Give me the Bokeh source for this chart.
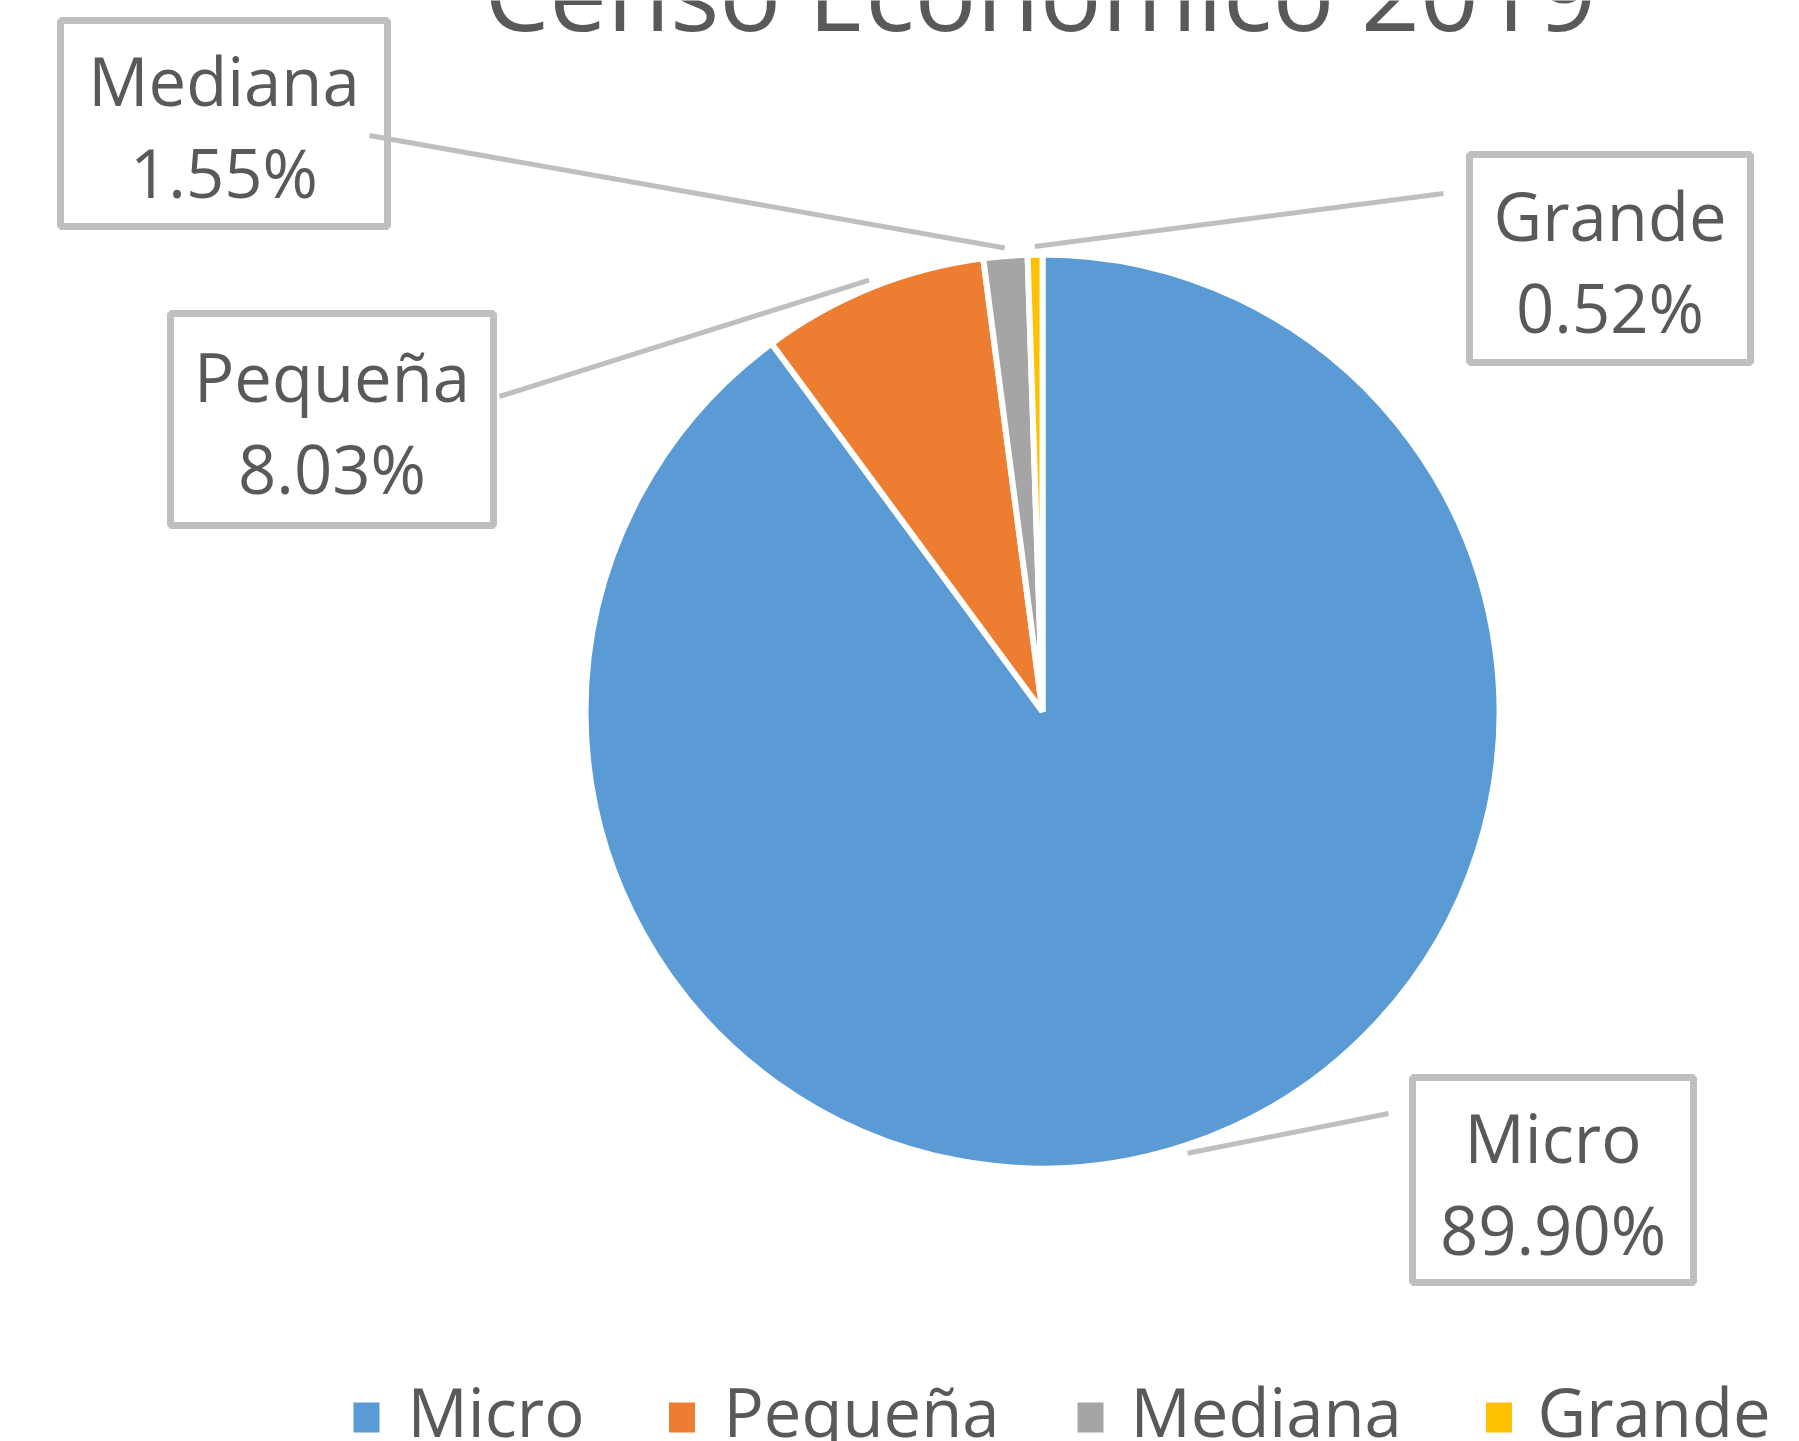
import numpy as np
from bokeh.plotting import figure
from bokeh.models import Range1d, ColumnDataSource
from bokeh.core.properties import value
from bokeh.embed import file_html
from bokeh.resources import INLINE

# ---- data ----
title_text = "Censo Económico 2019"
categories = ["Micro", "Pequeña", "Mediana", "Grande"]
shares = [89.90, 8.03, 1.55, 0.52]
pct_labels = ["89.90%", "8.03%", "1.55%", "0.52%"]
colors = ["#5B9BD5", "#ED7D31", "#A5A5A5", "#FFC000"]

# ---- layout (screen pixels) ----
W, H = 1799, 1441
def X(px):
    return np.asarray(px, dtype=float)
def Y(py):
    return H - np.asarray(py, dtype=float)
def TB(py, fs):
    # text baseline placement (calibrated for svg text rendering)
    return Y(np.asarray(py, dtype=float) - 0.39 * fs)

FONT = value("Open Sans")
TXT = "#595959"
GRAYLINE = "#BFBFBF"
FS = 67

p = figure(width=W, height=H, x_range=Range1d(0, W), y_range=Range1d(0, H),
           output_backend="svg", toolbar_location=None, min_border=0)
p.axis.visible = False
p.grid.visible = False
p.outline_line_color = None
p.background_fill_color = "white"
p.border_fill_color = "white"

# pie
cx, cy, R = 1042, 711, 457
fr = np.array(shares) / sum(shares)
cum = np.concatenate([[0.0], np.cumsum(fr)])
start = np.pi / 2 - 2 * np.pi * cum[:-1]
end = np.pi / 2 - 2 * np.pi * cum[1:]
mid = (start + end) / 2
src = ColumnDataSource(dict(start=start, end=end, color=colors))
p.wedge(x=float(X(cx)), y=float(Y(cy)), radius=R, start_angle="start", end_angle="end",
        direction="clock", fill_color="color", line_color="white", line_width=6, source=src)

# label boxes
box_cx = [1552.5, 331.5, 223.5, 1609.5]
box_cy = [1179.5, 419, 123, 258]
box_w = [281, 323, 327, 281]
box_h = [205, 212, 206, 208]
p.rect(x=X(box_cx), y=Y(box_cy), width=box_w, height=box_h, fill_color="white",
       line_color=GRAYLINE, line_width=7)

# leader lines
anchor_x = [1388, 499, 369, 1443]
anchor_y = [1113, 396, 135, 193]
rl = R + 8
sx0 = cx + rl * np.cos(mid)
sy0 = cy - rl * np.sin(mid)
p.segment(x0=X(sx0), y0=Y(sy0), x1=X(anchor_x), y1=Y(anchor_y), line_color=GRAYLINE, line_width=5)

# label texts
p.text(x=X(box_cx), y=TB(np.array(box_cy) - 17, FS), text=categories, text_font=FONT,
       text_font_size=f"{FS}px", text_color=TXT, text_align="center", text_baseline="alphabetic")
p.text(x=X(box_cx), y=TB(np.array(box_cy) + 75, FS), text=pct_labels, text_font=FONT,
       text_font_size=f"{FS}px", text_color=TXT, text_align="center", text_baseline="alphabetic")

# title (partly cut off at the top like the reference)
TFS = 103
p.text(x=[1040.0], y=TB([31], TFS), text=[title_text], text_font=FONT,
       text_font_size=f"{TFS}px", text_color=TXT, text_align="center", text_baseline="alphabetic")

# legend
leg_mx = [366, 681.5, 1090, 1498.5]
leg_tx = [407, 723, 1130, 1537]
p.rect(x=X(leg_mx), y=Y([1417] * 4), width=26, height=30, fill_color=colors, line_color=None)
p.text(x=X(leg_tx), y=TB([1437] * 4, FS), text=categories, text_font=FONT, text_font_size=f"{FS}px",
       text_color=TXT, text_align="left", text_baseline="alphabetic")

open("out.html", "w").write(file_html(p, INLINE))
